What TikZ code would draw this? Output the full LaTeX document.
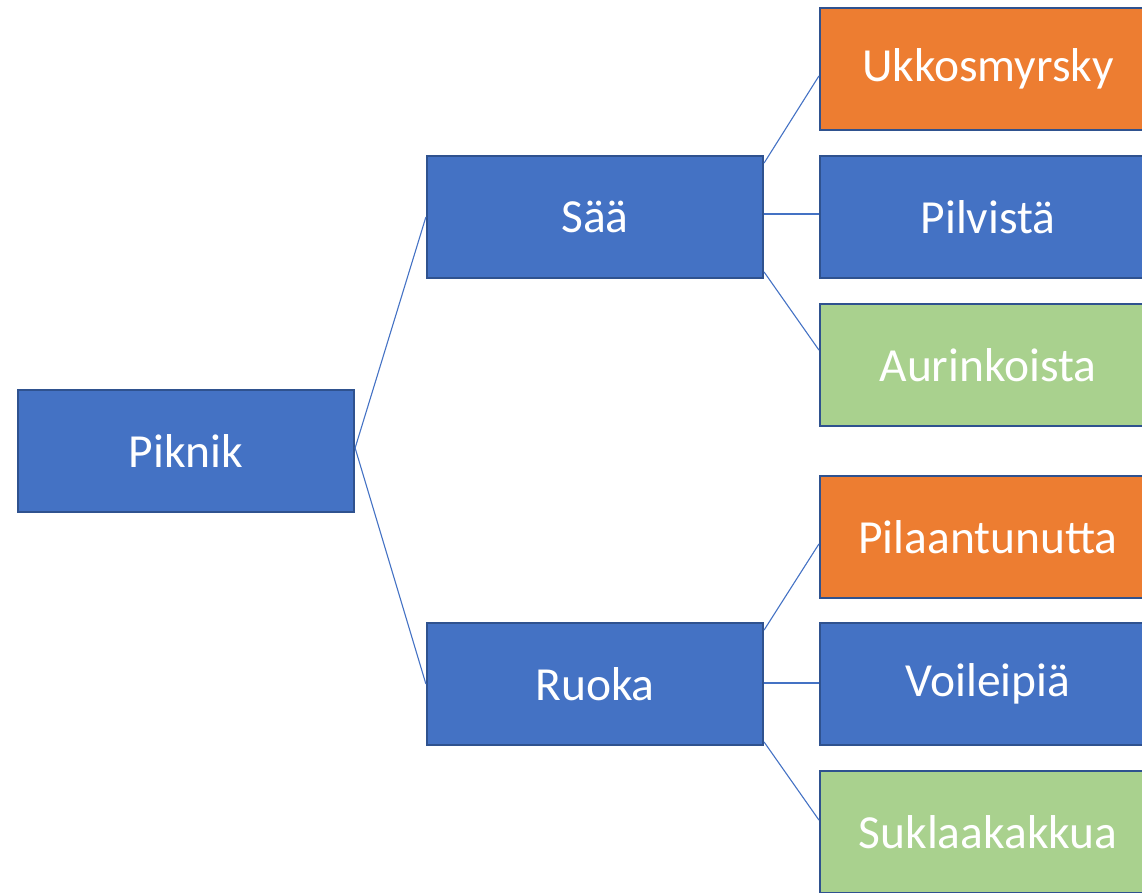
\documentclass[tikz,border=0pt]{standalone}
\usepackage{fontspec}
\setmainfont{Carlito}
\definecolor{boxblue}{HTML}{4472C4}
\definecolor{boxedge}{HTML}{2F528F}
\definecolor{boxorange}{HTML}{ED7D31}
\definecolor{boxgreen}{HTML}{A9D18E}
\begin{document}
\begin{tikzpicture}[x=1pt,y=-1pt,
  box/.style={draw=boxedge,line width=2.2pt,fill=boxblue,minimum width=336pt,minimum height=122pt,
    inner sep=0pt,text=white,font=\fontsize{47.5}{52}\selectfont},
  orangebox/.style={box,fill=boxorange},
  greenbox/.style={box,fill=boxgreen},
  conn/.style={draw=boxblue,line width=1.1pt}]
\useasboundingbox (0,0) rectangle (1142,892);
\clip (0,0) rectangle (1142,892);
\node[box] (piknik) at (186,451) {Piknik};
\node[box] (saa) at (595,217) {Sää};
\node[box] (ruoka) at (595,684) {Ruoka};
\node[orangebox] (ukko) at (988,69) {Ukkosmyrsky};
\node[box] (pilvi) at (988,217) {Pilvistä};
\node[greenbox] (aurin) at (988,365) {Aurinkoista};
\node[orangebox] (pilaa) at (988,537) {Pilaantunutta};
\node[box] (voi) at (988,684) {Voileipiä};
\node[greenbox] (sukla) at (988,832) {Suklaakakkua};
\draw[conn] ([yshift=3pt]piknik.east) -- (saa.west);
\draw[conn] ([yshift=3pt]piknik.east) -- (ruoka.west);
\draw[conn] ([yshift=54pt]saa.east) -- ([yshift=-7pt]ukko.west);
\draw[conn] ([yshift=3pt]saa.east) -- ([yshift=3pt]pilvi.west);
\draw[conn] ([yshift=-55pt]saa.east) -- ([yshift=15pt]aurin.west);
\draw[conn] ([yshift=54pt]ruoka.east) -- ([yshift=-7pt]pilaa.west);
\draw[conn] ([yshift=1pt]ruoka.east) -- ([yshift=1pt]voi.west);
\draw[conn] ([yshift=-58pt]ruoka.east) -- ([yshift=12pt]sukla.west);
\end{tikzpicture}
\end{document}
